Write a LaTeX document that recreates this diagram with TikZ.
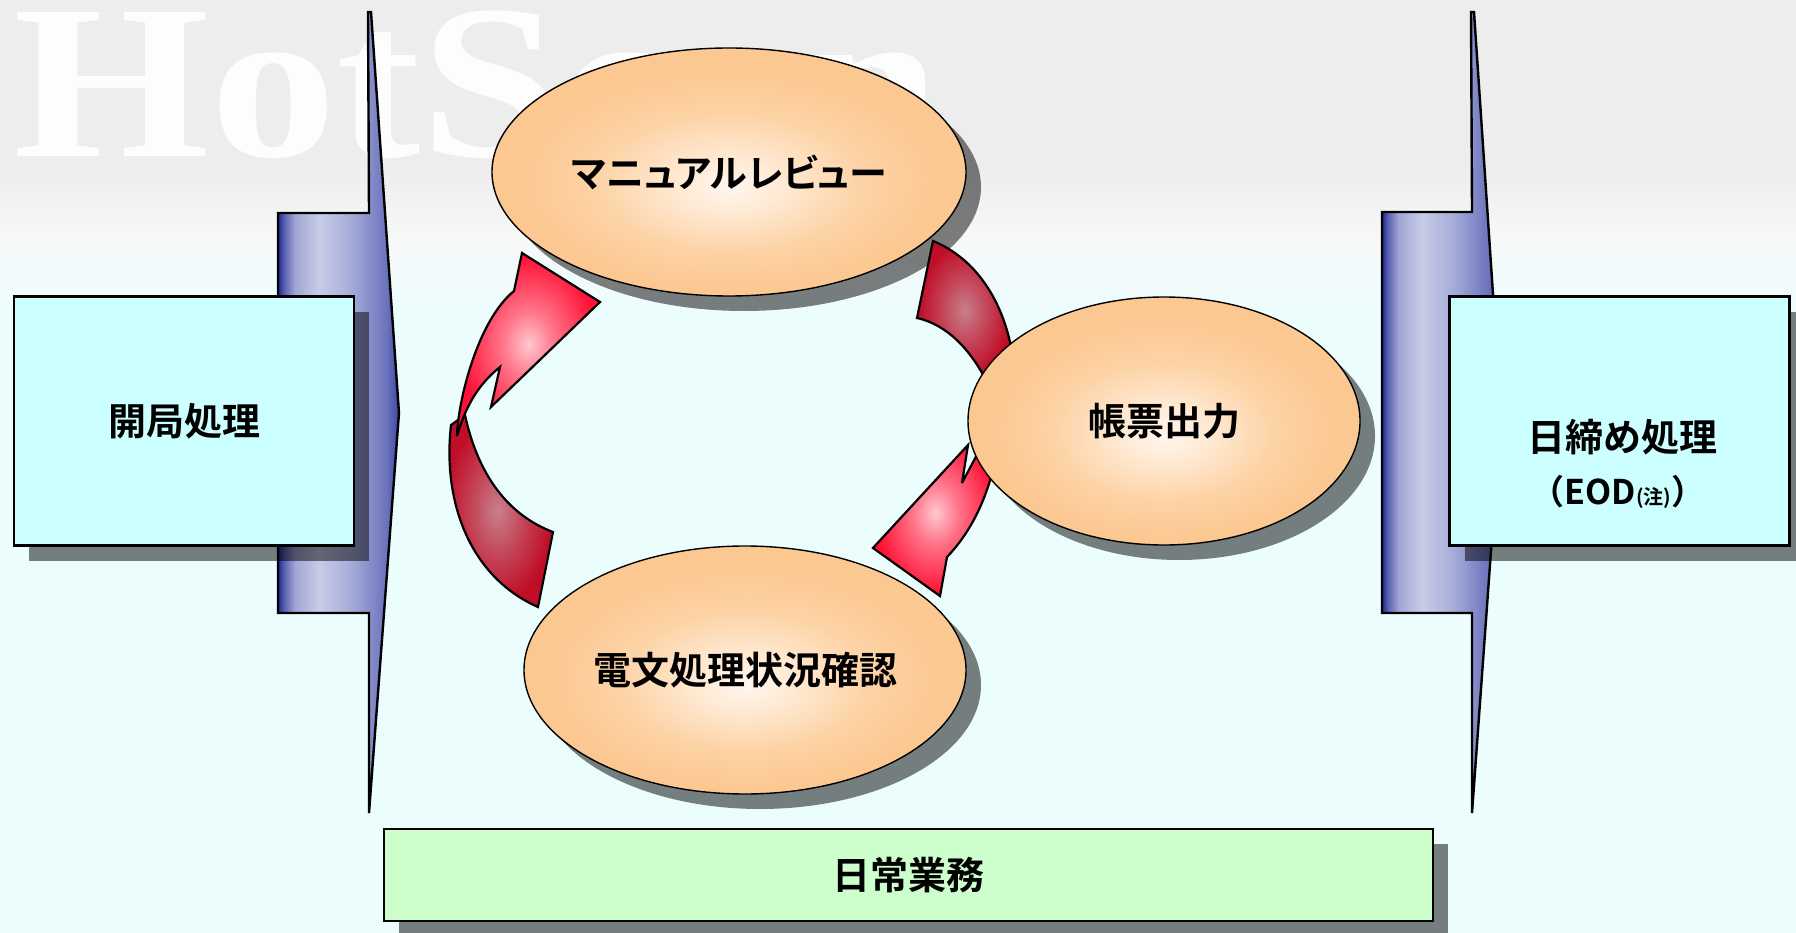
\documentclass[tikz,border=0pt]{standalone}
\usepackage{fontspec}
\usepackage{graphicx}
\newfontfamily\jp{Noto Sans CJK JP}[BoldFont={Noto Sans CJK JP Bold}]
\newfontfamily\jpp{Noto Sans CJK JP}[BoldFont={Noto Sans CJK JP Bold},RawFeature=+palt]
\newfontfamily\wm{Liberation Serif}
\usetikzlibrary{shapes.geometric,shadows}
\definecolor{cyanbox}{HTML}{CCFFFF}
\definecolor{greenbox}{HTML}{CCFFCC}
\definecolor{peachE}{HTML}{FCC892}
\definecolor{peachM}{HTML}{FDD3A6}
\definecolor{peachL}{HTML}{FFEBD6}
\definecolor{peachC}{HTML}{FFF6EE}
\definecolor{redA}{HTML}{FF1236}
\definecolor{pinkA}{HTML}{FFC8D0}
\definecolor{redD}{HTML}{C00E28}
\definecolor{roseD}{HTML}{C8808C}
\definecolor{bgG}{HTML}{EDEDED}
\definecolor{bgW}{HTML}{F7F9F9}
\definecolor{bgC}{HTML}{ECFDFE}
\definecolor{bA}{HTML}{1A2894}
\definecolor{bB}{HTML}{5A62B0}
\definecolor{bC}{HTML}{A0A6D4}
\definecolor{bD}{HTML}{C8CCE8}
\definecolor{bE}{HTML}{A6ACD8}
\definecolor{bF}{HTML}{8A92CC}
\definecolor{bG}{HTML}{6A72BC}
\definecolor{bH}{HTML}{3A44A6}
\pgfdeclarehorizontalshading{bracketshade}{100bp}{color(0bp)=(bA); color(25bp)=(bA); color(27.5bp)=(bB); color(32bp)=(bC); color(42bp)=(bD); color(55bp)=(bE); color(62bp)=(bF); color(70bp)=(bG); color(75bp)=(bH); color(100bp)=(bH)}
\pgfdeclareverticalshading{bgshade}{100bp}{color(0bp)=(bgC); color(25bp)=(bgC); color(58bp)=(bgC); color(62bp)=(bgW); color(66bp)=(bgG); color(75bp)=(bgG); color(100bp)=(bgG)}
\pgfdeclareradialshading{peachshade}{\pgfpoint{0bp}{-3bp}}{color(0bp)=(peachC); color(5bp)=(peachL); color(14bp)=(peachM); color(22bp)=(peachE); color(50bp)=(peachE)}
\pgfdeclareradialshading{redlight}{\pgfpoint{0bp}{0bp}}{color(0bp)=(pinkA); color(9bp)=(pinkA!55!redA); color(24bp)=(redA); color(50bp)=(redA)}
\pgfdeclareradialshading{reddark}{\pgfpoint{0bp}{0bp}}{color(0bp)=(roseD); color(10bp)=(roseD!55!redD); color(24bp)=(redD); color(50bp)=(redD)}
\tikzset{
  jpt/.style={font=\jp\bfseries\fontsize{38}{44}\selectfont, text=black},
  cbox/.style={jpt, draw=black, line width=2.6, fill=cyanbox, minimum width=340, minimum height=249, inner sep=0,
    drop shadow={shadow xshift=15pt, shadow yshift=-15pt, fill=black, opacity=0.5}},
  gbox/.style={jpt, draw=black, line width=2.6, fill=greenbox, minimum width=1049, minimum height=92, inner sep=0,
    drop shadow={shadow xshift=15pt, shadow yshift=-15pt, fill=black, opacity=0.5}},
  peach/.style={jpt, ellipse, draw=black, line width=1.4, shade, shading=peachshade, minimum height=248, inner sep=0},
  eshadow/.style={fill=black, opacity=0.5},
  bracket/.style={draw=black, line width=2.4, line join=miter, miter limit=3, shade, shading=bracketshade},
  arrowlight/.style={draw=black, line width=2.2, line join=miter, miter limit=4, shade, shading=redlight},
  arrowdark/.style={draw=black, line width=2.2, line join=miter, miter limit=4, shade, shading=reddark},
}
\begin{document}
\begin{tikzpicture}[x=1pt,y=-1pt]
\useasboundingbox (0,0) rectangle (1796,933);
\clip (0,0) rectangle (1796,933);
\shade[shading=bgshade] (0,0) rectangle (1796,933);
% watermark
\node[anchor=base west, inner sep=0, text=white, opacity=0.9] (wmark) at (13,157)
  {\scalebox{1.15}[1]{\wm\bfseries\fontsize{220}{220}\selectfont HotScan}};
% brackets
\path[bracket] (368,12) -- (371,12) -- (399,413) -- (369,813) -- (369,613) -- (278,613) -- (278,213) -- (369,213) -- cycle;
\path[bracket] (1471,12) -- (1474,12) -- (1501,413) -- (1472,813) -- (1472,613) -- (1382,613) -- (1382,212) -- (1472,212) -- cycle;
% boxes
\node[cbox] (kaikyoku) at (184,421) {開局処理};
\node[cbox] (himejime) at (1619.5,421) {};
\node[jpt, inner sep=0] (himejimeA) at (1622,437) {日締め処理};
\node[font=\jp\bfseries\fontsize{34}{38}\selectfont, inner sep=0] (himejimeB) at (1618,492) {（EOD{\fontsize{20}{24}\selectfont(注)}）};
\node[gbox] (nichijo) at (908.5,875) {日常業務};
% ellipse shadows
\fill[eshadow] (744,187) ellipse (237 and 124);
\fill[eshadow] (760,685) ellipse (221 and 124);
\fill[eshadow] (1179,436) ellipse (196 and 124);
% arrows
\path[arrowdark] (451,425) .. controls (442,505) and (472,578) .. (538,607) -- (553,532)
  .. controls (508,515) and (478,475) .. (465,415) -- cycle;
\path[arrowlight] (457,436) .. controls (458,400) and (478,320) .. (514,291) -- (522,253) -- (600,302)
  -- (491,407) -- (500,367) .. controls (484,380) and (468,398) .. (457,436) -- cycle;
\path[arrowdark] (933,241) .. controls (975,258) and (1003,300) .. (1012,352) -- (986,380)
  .. controls (970,350) and (948,325) .. (917,318) -- cycle;
\path[arrowlight] (968,445) -- (873,548) -- (940,596) -- (947,557)
  .. controls (968,535) and (985,505) .. (995,462) -- (998,430) -- (990,430) -- (962,483) -- cycle;
% ellipses
\node[peach, minimum width=474] (manual) at (729,172) {\jpp マニュアルレビュー};
\node[peach, minimum width=442] (denbun) at (745,670) {電文処理状況確認};
\node[peach, minimum width=392] (chohyo) at (1164,421) {帳票出力};
\end{tikzpicture}
\end{document}
